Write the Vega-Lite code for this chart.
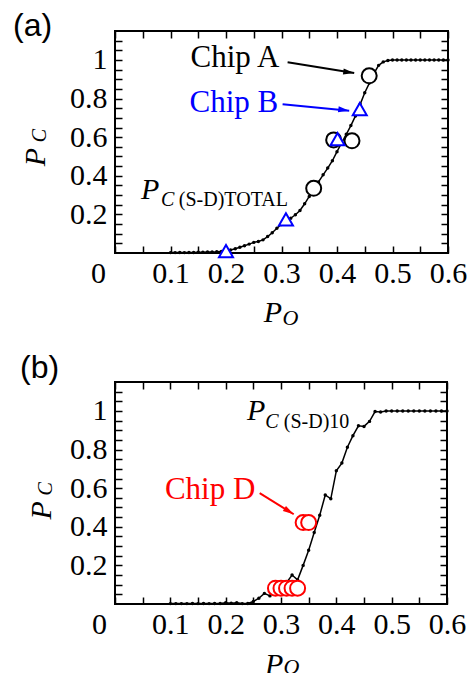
{
  "$schema": "https://vega.github.io/schema/vega-lite/v6.json",
  "padding": {"left": 12, "top": 8, "right": 0, "bottom": 0},
  "spacing": 20,
  "config": {
    "font": "Liberation Serif",
    "view": {"stroke": "black", "strokeWidth": 2},
    "axis": {"domain": false, "grid": false, "ticks": true, "tickSize": -7, "tickWidth": 1.5, "tickColor": "black",
      "labelFont": "Liberation Serif", "labelFontSize": 30, "labelColor": "black", "labelOverlap": false, "labelBound": false, "labelFlush": false, "title": null},
    "title": {"font": "Liberation Sans", "fontSize": 32, "fontWeight": "normal", "anchor": "start", "frame": "group", "color": "black", "offset": 0}
  },
  "datasets": {
    "curveA": [
      {"po":0.1,"pc":0.002},{"po":0.1083,"pc":0.002},{"po":0.1167,"pc":0.003},{"po":0.125,"pc":0.002},{"po":0.1333,"pc":0.003},
      {"po":0.1417,"pc":0.003},{"po":0.15,"pc":0.004},{"po":0.1583,"pc":0.004},{"po":0.1667,"pc":0.005},{"po":0.175,"pc":0.005},
      {"po":0.1833,"pc":0.006},{"po":0.1917,"pc":0.008},{"po":0.2,"pc":0.01},{"po":0.2083,"pc":0.016},{"po":0.2167,"pc":0.022},
      {"po":0.225,"pc":0.03},{"po":0.2333,"pc":0.038},{"po":0.2417,"pc":0.046},{"po":0.25,"pc":0.055},{"po":0.2583,"pc":0.06},
      {"po":0.2667,"pc":0.068},{"po":0.275,"pc":0.085},{"po":0.2833,"pc":0.105},{"po":0.2917,"pc":0.128},{"po":0.3,"pc":0.148},
      {"po":0.3083,"pc":0.165},{"po":0.3167,"pc":0.18},{"po":0.325,"pc":0.198},{"po":0.3333,"pc":0.22},{"po":0.3417,"pc":0.255},
      {"po":0.35,"pc":0.293},{"po":0.3583,"pc":0.33},{"po":0.3667,"pc":0.368},{"po":0.375,"pc":0.405},{"po":0.3833,"pc":0.44},
      {"po":0.3917,"pc":0.478},{"po":0.4,"pc":0.525},{"po":0.4083,"pc":0.57},{"po":0.4167,"pc":0.615},{"po":0.425,"pc":0.66},
      {"po":0.4333,"pc":0.71},{"po":0.4417,"pc":0.77},{"po":0.45,"pc":0.83},{"po":0.4583,"pc":0.88},{"po":0.4667,"pc":0.93},
      {"po":0.475,"pc":0.972},{"po":0.4833,"pc":0.99},{"po":0.4917,"pc":0.997},{"po":0.5,"pc":1},{"po":0.5083,"pc":1},
      {"po":0.5167,"pc":1},{"po":0.525,"pc":1},{"po":0.5333,"pc":1},{"po":0.5417,"pc":1},{"po":0.55,"pc":1},
      {"po":0.5583,"pc":1},{"po":0.5667,"pc":1},{"po":0.575,"pc":1},{"po":0.5833,"pc":1},{"po":0.5917,"pc":1},{"po":0.6,"pc":1}
    ],
    "chipsA": [
      {"chip":"A","po":0.358,"pc":0.335},{"chip":"A","po":0.394,"pc":0.586},{"chip":"A","po":0.427,"pc":0.581},{"chip":"A","po":0.458,"pc":0.918},
      {"chip":"B","po":0.2,"pc":0.01},{"chip":"B","po":0.308,"pc":0.174},{"chip":"B","po":0.401,"pc":0.59},{"chip":"B","po":0.441,"pc":0.745}
    ],
    "arrowsA": [
      {"chip":"A","po":0.311,"pc":0.988,"po2":0.431,"pc2":0.932},
      {"chip":"B","po":0.302,"pc":0.771,"po2":0.422,"pc2":0.737}
    ],
    "chipLabelsA": [
      {"chip":"A","po":0.296,"pc":0.962,"text":"Chip A"},
      {"chip":"B","po":0.294,"pc":0.728,"text":"Chip B"}
    ],
    "bigA": [{"po":0.047,"pc":0.278,"text":"P"},{"po":0.268,"pc":-0.356,"text":"P"}],
    "subItalA": [{"po":0.083,"pc":0.243,"text":"C"}],
    "subRomA": [{"po":0.115,"pc":0.243,"text":"(S-D)TOTAL"}],
    "xSubA": [{"po":0.316,"pc":-0.335,"text":"O"}],
    "yBigA": [{"po":-0.126,"pc":0.449,"text":"P"}],
    "ySubA": [{"po":-0.124,"pc":0.574,"text":"C"}],
    "curveB": [
      {"po":0.1,"pc":0.002},{"po":0.11,"pc":0.002},{"po":0.12,"pc":0.002},{"po":0.13,"pc":0.002},{"po":0.14,"pc":0.003},
      {"po":0.15,"pc":0.002},{"po":0.16,"pc":0.003},{"po":0.17,"pc":0.002},{"po":0.18,"pc":0.003},{"po":0.19,"pc":0.003},
      {"po":0.2,"pc":0.006},{"po":0.21,"pc":0.004},{"po":0.22,"pc":0.006},{"po":0.23,"pc":0.002},{"po":0.24,"pc":0.003},
      {"po":0.25,"pc":0.013},{"po":0.26,"pc":0.03},{"po":0.27,"pc":0.055},{"po":0.28,"pc":0.042},{"po":0.29,"pc":0.075},
      {"po":0.3,"pc":0.095},{"po":0.31,"pc":0.11},{"po":0.32,"pc":0.15},{"po":0.33,"pc":0.125},{"po":0.34,"pc":0.2},
      {"po":0.35,"pc":0.278},{"po":0.36,"pc":0.37},{"po":0.37,"pc":0.46},{"po":0.38,"pc":0.565},{"po":0.39,"pc":0.545},
      {"po":0.4,"pc":0.69},{"po":0.41,"pc":0.73},{"po":0.42,"pc":0.812},{"po":0.43,"pc":0.872},{"po":0.44,"pc":0.923},
      {"po":0.45,"pc":0.92},{"po":0.46,"pc":0.946},{"po":0.47,"pc":0.997},{"po":0.48,"pc":0.995},{"po":0.49,"pc":1},
      {"po":0.5,"pc":1},{"po":0.51,"pc":1},{"po":0.52,"pc":1},{"po":0.53,"pc":1},{"po":0.54,"pc":1},
      {"po":0.55,"pc":1},{"po":0.56,"pc":1},{"po":0.57,"pc":1},{"po":0.58,"pc":1},{"po":0.59,"pc":1},{"po":0.6,"pc":1}
    ],
    "chipsB": [
      {"chip":"D","po":0.29,"pc":0.082},{"chip":"D","po":0.3,"pc":0.082},{"chip":"D","po":0.31,"pc":0.082},{"chip":"D","po":0.32,"pc":0.082},
      {"chip":"D","po":0.33,"pc":0.082},{"chip":"D","po":0.34,"pc":0.422},{"chip":"D","po":0.35,"pc":0.422}
    ],
    "arrowsB": [{"chip":"D","po":0.2615,"pc":0.574,"po2":0.323,"pc2":0.465}],
    "chipLabelsB": [{"chip":"D","po":0.2536,"pc":0.543,"text":"Chip D"}],
    "bigB": [{"po":0.2386,"pc":0.951,"text":"P"},{"po":0.271,"pc":-0.365,"text":"P"}],
    "subItalB": [{"po":0.2716,"pc":0.912,"text":"C"}],
    "subRomB": [{"po":0.305,"pc":0.912,"text":"(S-D)10"}],
    "xSubB": [{"po":0.319,"pc":-0.324,"text":"O"}],
    "yBigB": [{"po":-0.1157,"pc":0.438,"text":"P"}],
    "ySubB": [{"po":-0.1139,"pc":0.562,"text":"C"}]
  },
  "vconcat": [
    {
      "width": 333, "height": 222,
      "title": {"text": "(a)", "dx": -102, "dy": 21, "font": "Liberation Sans"},
      "resolve": {"axis": {"x": "independent", "y": "independent"}},
      "layer": [
        {
          "data": {"name": "curveA"},
          "mark": {"type": "line", "color": "black", "strokeWidth": 1.5, "point": {"filled": true, "size": 12, "color": "black", "opacity": 1}},
          "encoding": {
            "x": {"field": "po", "type": "quantitative", "scale": {"domain": [0, 0.6], "nice": false},
              "axis": {"orient": "bottom", "values": [0,0.05,0.1,0.15,0.2,0.25,0.3,0.35,0.4,0.45,0.5,0.55,0.6], "format": ".1~f",
                "labelExpr": "abs(datum.value*10 - round(datum.value*10)) < 1e-6 ? datum.label : ''",
                "labelOffset": {"condition": {"test": "datum.value == 0", "value": -17}, "value": 0},
                "labelFont": "Liberation Serif", "labelFontSize": 30, "labelPadding": 12, "title": null}},
            "y": {"field": "pc", "type": "quantitative", "scale": {"domain": [0, 1.15], "nice": false},
              "axis": {"orient": "left", "values": [0.05,0.1,0.15,0.2,0.25,0.3,0.35,0.4,0.45,0.5,0.55,0.6,0.65,0.7,0.75,0.8,0.85,0.9,0.95,1,1.05,1.1], "format": ".1~f",
                "labelExpr": "abs(datum.value*5 - round(datum.value*5)) < 1e-6 ? datum.label : ''",
                "labelFont": "Liberation Serif", "labelFontSize": 30, "labelPadding": 15, "title": null}}
          }
        },
        {
          "data": {"name": "chipsA"},
          "transform": [{"filter": "datum.chip == 'A'"}],
          "mark": {"type": "point", "shape": "circle", "size": 225, "fill": "white", "stroke": "black", "strokeWidth": 2, "opacity": 1, "fillOpacity": 1},
          "encoding": {
            "x": {"field": "po", "type": "quantitative", "axis": {"orient": "top", "values": [0,0.05,0.1,0.15,0.2,0.25,0.3,0.35,0.4,0.45,0.5,0.55,0.6], "labels": false, "title": null}},
            "y": {"field": "pc", "type": "quantitative", "axis": {"orient": "right", "values": [0.05,0.1,0.15,0.2,0.25,0.3,0.35,0.4,0.45,0.5,0.55,0.6,0.65,0.7,0.75,0.8,0.85,0.9,0.95,1,1.05,1.1], "labels": false, "title": null}}
          }
        },
        {
          "data": {"name": "chipsA"},
          "transform": [{"filter": "datum.chip == 'B'"}],
          "mark": {"type": "point", "shape": "triangle-up", "size": 196, "fill": "white", "stroke": "#0000ff", "strokeWidth": 2, "opacity": 1, "fillOpacity": 1},
          "encoding": {
            "x": {"field": "po", "type": "quantitative", "axis": null},
            "y": {"field": "pc", "type": "quantitative", "axis": null}
          }
        },
        {
          "data": {"name": "arrowsA"},
          "mark": {"type": "rule", "strokeWidth": 2},
          "encoding": {
            "x": {"field": "po", "type": "quantitative", "axis": null},
            "y": {"field": "pc", "type": "quantitative", "axis": null},
            "x2": {"field": "po2"}, "y2": {"field": "pc2"},
            "color": {"field": "chip", "type": "nominal", "scale": {"domain": ["A","B","D"], "range": ["#000000","#0000ff","#ff0000"]}, "legend": null}
          }
        },
        {
          "data": {"name": "arrowsA"},
          "mark": {"type": "point", "shape": "M0,0L-1,-0.27L-1,0.27Z", "size": 484, "filled": true, "opacity": 1, "angle": 8},
          "encoding": {
            "x": {"field": "po2", "type": "quantitative", "axis": null},
            "y": {"field": "pc2", "type": "quantitative", "axis": null},
            "color": {"field": "chip", "type": "nominal", "legend": null}
          }
        },
        {
          "data": {"name": "chipLabelsA"},
          "mark": {"type": "text", "align": "right", "baseline": "alphabetic", "font": "Liberation Serif", "fontSize": 31},
          "encoding": {
            "x": {"field": "po", "type": "quantitative", "axis": null},
            "y": {"field": "pc", "type": "quantitative", "axis": null},
            "text": {"field": "text"},
            "color": {"field": "chip", "type": "nominal", "legend": null}
          }
        },
        {
          "data": {"name": "bigA"},
          "mark": {"type": "text", "align": "left", "baseline": "alphabetic", "font": "Liberation Serif", "fontStyle": "italic", "fontSize": 30, "color": "black"},
          "encoding": {"x": {"field": "po", "type": "quantitative", "axis": null}, "y": {"field": "pc", "type": "quantitative", "axis": null}, "text": {"field": "text"}}
        },
        {
          "data": {"name": "subItalA"},
          "mark": {"type": "text", "align": "left", "baseline": "alphabetic", "font": "Liberation Serif", "fontStyle": "italic", "fontSize": 20, "color": "black"},
          "encoding": {"x": {"field": "po", "type": "quantitative", "axis": null}, "y": {"field": "pc", "type": "quantitative", "axis": null}, "text": {"field": "text"}}
        },
        {
          "data": {"name": "subRomA"},
          "mark": {"type": "text", "align": "left", "baseline": "alphabetic", "font": "Liberation Serif", "fontSize": 20, "color": "black"},
          "encoding": {"x": {"field": "po", "type": "quantitative", "axis": null}, "y": {"field": "pc", "type": "quantitative", "axis": null}, "text": {"field": "text"}}
        },
        {
          "data": {"name": "xSubA"},
          "mark": {"type": "text", "align": "center", "baseline": "middle", "font": "Liberation Serif", "fontStyle": "italic", "fontSize": 22, "color": "black"},
          "encoding": {"x": {"field": "po", "type": "quantitative", "axis": null}, "y": {"field": "pc", "type": "quantitative", "axis": null}, "text": {"field": "text"}}
        },
        {
          "data": {"name": "yBigA"},
          "mark": {"type": "text", "align": "left", "baseline": "alphabetic", "angle": 270, "font": "Liberation Serif", "fontStyle": "italic", "fontSize": 30, "color": "black"},
          "encoding": {"x": {"field": "po", "type": "quantitative", "axis": null}, "y": {"field": "pc", "type": "quantitative", "axis": null}, "text": {"field": "text"}}
        },
        {
          "data": {"name": "ySubA"},
          "mark": {"type": "text", "align": "left", "baseline": "alphabetic", "angle": 270, "font": "Liberation Serif", "fontStyle": "italic", "fontSize": 20, "color": "black"},
          "encoding": {"x": {"field": "po", "type": "quantitative", "axis": null}, "y": {"field": "pc", "type": "quantitative", "axis": null}, "text": {"field": "text"}}
        }
      ]
    },
    {
      "width": 332, "height": 222,
      "title": {"text": "(b)", "dx": -95, "dy": 12, "font": "Liberation Sans"},
      "resolve": {"axis": {"x": "independent", "y": "independent"}},
      "layer": [
        {
          "data": {"name": "curveB"},
          "mark": {"type": "line", "color": "black", "strokeWidth": 1.5, "point": {"filled": true, "size": 12, "color": "black", "opacity": 1}},
          "encoding": {
            "x": {"field": "po", "type": "quantitative", "scale": {"domain": [0, 0.6], "nice": false},
              "axis": {"orient": "bottom", "values": [0,0.05,0.1,0.15,0.2,0.25,0.3,0.35,0.4,0.45,0.5,0.55,0.6], "format": ".1~f",
                "labelExpr": "abs(datum.value*10 - round(datum.value*10)) < 1e-6 ? datum.label : ''",
                "labelOffset": {"condition": {"test": "datum.value == 0", "value": -16}, "value": 0},
                "labelFont": "Liberation Serif", "labelFontSize": 30, "labelPadding": 12, "title": null}},
            "y": {"field": "pc", "type": "quantitative", "scale": {"domain": [0, 1.15], "nice": false},
              "axis": {"orient": "left", "values": [0.05,0.1,0.15,0.2,0.25,0.3,0.35,0.4,0.45,0.5,0.55,0.6,0.65,0.7,0.75,0.8,0.85,0.9,0.95,1,1.05,1.1], "format": ".1~f",
                "labelExpr": "abs(datum.value*5 - round(datum.value*5)) < 1e-6 ? datum.label : ''",
                "labelFont": "Liberation Serif", "labelFontSize": 30, "labelPadding": 15, "title": null}}
          }
        },
        {
          "data": {"name": "chipsB"},
          "mark": {"type": "point", "shape": "circle", "size": 225, "fill": "white", "stroke": "#ff0000", "strokeWidth": 2, "opacity": 1, "fillOpacity": 1},
          "encoding": {
            "x": {"field": "po", "type": "quantitative", "axis": {"orient": "top", "values": [0,0.05,0.1,0.15,0.2,0.25,0.3,0.35,0.4,0.45,0.5,0.55,0.6], "labels": false, "title": null}},
            "y": {"field": "pc", "type": "quantitative", "axis": {"orient": "right", "values": [0.05,0.1,0.15,0.2,0.25,0.3,0.35,0.4,0.45,0.5,0.55,0.6,0.65,0.7,0.75,0.8,0.85,0.9,0.95,1,1.05,1.1], "labels": false, "title": null}}
          }
        },
        {
          "data": {"name": "arrowsB"},
          "mark": {"type": "rule", "strokeWidth": 2},
          "encoding": {
            "x": {"field": "po", "type": "quantitative", "axis": null},
            "y": {"field": "pc", "type": "quantitative", "axis": null},
            "x2": {"field": "po2"}, "y2": {"field": "pc2"},
            "color": {"field": "chip", "type": "nominal", "scale": {"domain": ["A","B","D"], "range": ["#000000","#0000ff","#ff0000"]}, "legend": null}
          }
        },
        {
          "data": {"name": "arrowsB"},
          "mark": {"type": "point", "shape": "M0,0L-1,-0.27L-1,0.27Z", "size": 484, "filled": true, "opacity": 1, "angle": 32},
          "encoding": {
            "x": {"field": "po2", "type": "quantitative", "axis": null},
            "y": {"field": "pc2", "type": "quantitative", "axis": null},
            "color": {"field": "chip", "type": "nominal", "legend": null}
          }
        },
        {
          "data": {"name": "chipLabelsB"},
          "mark": {"type": "text", "align": "right", "baseline": "alphabetic", "font": "Liberation Serif", "fontSize": 31},
          "encoding": {
            "x": {"field": "po", "type": "quantitative", "axis": null},
            "y": {"field": "pc", "type": "quantitative", "axis": null},
            "text": {"field": "text"},
            "color": {"field": "chip", "type": "nominal", "legend": null}
          }
        },
        {
          "data": {"name": "bigB"},
          "mark": {"type": "text", "align": "left", "baseline": "alphabetic", "font": "Liberation Serif", "fontStyle": "italic", "fontSize": 30, "color": "black"},
          "encoding": {"x": {"field": "po", "type": "quantitative", "axis": null}, "y": {"field": "pc", "type": "quantitative", "axis": null}, "text": {"field": "text"}}
        },
        {
          "data": {"name": "subItalB"},
          "mark": {"type": "text", "align": "left", "baseline": "alphabetic", "font": "Liberation Serif", "fontStyle": "italic", "fontSize": 20, "color": "black"},
          "encoding": {"x": {"field": "po", "type": "quantitative", "axis": null}, "y": {"field": "pc", "type": "quantitative", "axis": null}, "text": {"field": "text"}}
        },
        {
          "data": {"name": "subRomB"},
          "mark": {"type": "text", "align": "left", "baseline": "alphabetic", "font": "Liberation Serif", "fontSize": 20, "color": "black"},
          "encoding": {"x": {"field": "po", "type": "quantitative", "axis": null}, "y": {"field": "pc", "type": "quantitative", "axis": null}, "text": {"field": "text"}}
        },
        {
          "data": {"name": "xSubB"},
          "mark": {"type": "text", "align": "center", "baseline": "middle", "font": "Liberation Serif", "fontStyle": "italic", "fontSize": 22, "color": "black"},
          "encoding": {"x": {"field": "po", "type": "quantitative", "axis": null}, "y": {"field": "pc", "type": "quantitative", "axis": null}, "text": {"field": "text"}}
        },
        {
          "data": {"name": "yBigB"},
          "mark": {"type": "text", "align": "left", "baseline": "alphabetic", "angle": 270, "font": "Liberation Serif", "fontStyle": "italic", "fontSize": 30, "color": "black"},
          "encoding": {"x": {"field": "po", "type": "quantitative", "axis": null}, "y": {"field": "pc", "type": "quantitative", "axis": null}, "text": {"field": "text"}}
        },
        {
          "data": {"name": "ySubB"},
          "mark": {"type": "text", "align": "left", "baseline": "alphabetic", "angle": 270, "font": "Liberation Serif", "fontStyle": "italic", "fontSize": 20, "color": "black"},
          "encoding": {"x": {"field": "po", "type": "quantitative", "axis": null}, "y": {"field": "pc", "type": "quantitative", "axis": null}, "text": {"field": "text"}}
        }
      ]
    }
  ]
}
